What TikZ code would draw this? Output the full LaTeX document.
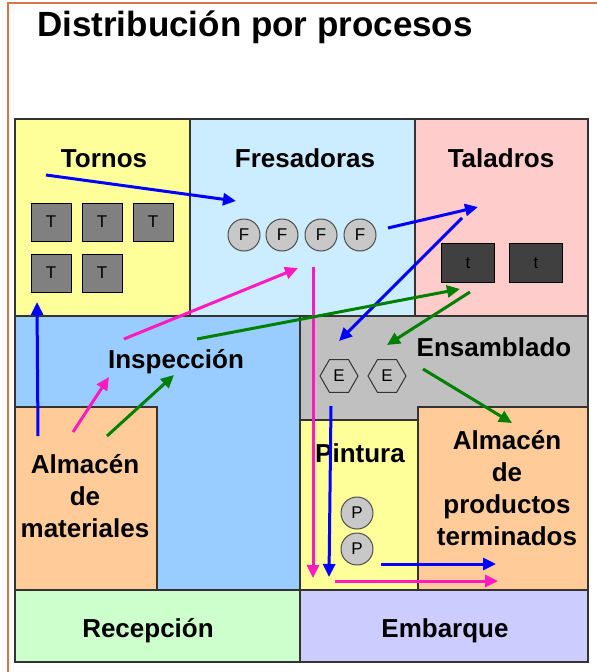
\documentclass[tikz,border=0pt]{standalone}
\usepackage{fontspec}
\setmainfont{Liberation Sans}
\usetikzlibrary{arrows.meta,shapes.geometric}
\definecolor{ctorn}{HTML}{FFFF99}
\definecolor{cfres}{HTML}{CCECFF}
\definecolor{ctal}{HTML}{FFCCCC}
\definecolor{cinsp}{HTML}{99CCFF}
\definecolor{cens}{HTML}{C0C0C0}
\definecolor{calm}{HTML}{FFCC99}
\definecolor{crec}{HTML}{CCFFCC}
\definecolor{cemb}{HTML}{CCCCFF}
\definecolor{cframe}{HTML}{D9734A}
\definecolor{cpink}{HTML}{FF19C0}
\definecolor{cgreen}{HTML}{008000}
\definecolor{cblue}{HTML}{0000FF}
\definecolor{cmach}{HTML}{C8C8C8}
\definecolor{cdark}{HTML}{404040}
\begin{document}
\begin{tikzpicture}[x=1pt,y=-1pt,
  area/.style={draw=black!80,line width=1.2pt},
  lbl/.style={font=\bfseries\fontsize{26}{32}\selectfont, align=center, anchor=base, inner sep=0pt},
  tbox/.style={draw=black, fill=black!50, minimum width=40pt, minimum height=38pt, inner sep=0pt, font=\fontsize{17}{17}\selectfont, line width=1pt},
  dbox/.style={draw=black, fill=cdark, minimum width=53pt, minimum height=39pt, inner sep=0pt, font=\fontsize{17}{17}\selectfont, line width=1pt},
  mcirc/.style={circle, draw=black!70, fill=cmach, minimum size=32pt, inner sep=0pt, font=\fontsize{17}{17}\selectfont, line width=1pt},
  hexa/.style={regular polygon, regular polygon sides=6, draw=black!80, fill=cens, minimum size=38pt, inner sep=0pt, font=\fontsize{17}{17}\selectfont, line width=1pt},
  flow/.style={line width=3pt, -{Triangle[length=13pt,width=12pt]}},
]
\useasboundingbox (0,0) rectangle (597,672);
\fill[white] (0,0) rectangle (597,672);
% slide frame
\draw[cframe, line width=1.5pt] (8,672) -- (8,3) -- (597,3);
% title
\node[anchor=base west, font=\bfseries\fontsize{35}{40}\selectfont, inner sep=0pt] (title) at (37,36) {Distribución por procesos};
% areas
\filldraw[area, fill=ctorn] (15,119) rectangle (190,316);
\filldraw[area, fill=cfres] (190,119) rectangle (415,316);
\filldraw[area, fill=ctal] (415,119) rectangle (588,316);
\filldraw[area, fill=cinsp] (15,316) rectangle (300,590);
\filldraw[area, fill=cens] (300,316) rectangle (588,420);
\filldraw[area, fill=ctorn] (300,420) rectangle (418,590);
\filldraw[area, fill=calm] (418,407) rectangle (588,590);
\filldraw[area, fill=calm] (15,407) rectangle (157,590);
\filldraw[area, fill=crec] (15,590) rectangle (300,662);
\filldraw[area, fill=cemb] (300,590) rectangle (588,662);
% labels
\node[lbl] (ltorn) at (104,167) {Tornos};
\node[lbl] (lfres) at (305,167) {Fresadoras};
\node[lbl] (ltal) at (501,167) {Taladros};
\node[lbl] (linsp) at (176,368) {Inspección};
\node[lbl] (lens) at (494,356) {Ensamblado};
\node[lbl] (lpint) at (360,462) {Pintura};
\node[lbl, anchor=base] (lalmp) at (507,545) {Almacén\\de\\productos\\terminados};
\node[lbl, anchor=base] (lalmm) at (85,537) {Almacén\\de\\materiales};
\node[lbl] (lrec) at (148,637) {Recepción};
\node[lbl] (lemb) at (445,637) {Embarque};
% machines
\node[tbox] (t1) at (51,222) {T};
\node[tbox] (t2) at (102,222) {T};
\node[tbox] (t3) at (153,222) {T};
\node[tbox] (t4) at (51,273) {T};
\node[tbox] (t5) at (102,273) {T};
\node[mcirc] (f1) at (244,235) {F};
\node[mcirc] (f2) at (282,235) {F};
\node[mcirc] (f3) at (321,235) {F};
\node[mcirc] (f4) at (360,235) {F};
\node[dbox] (d1) at (468,263) {t};
\node[dbox] (d2) at (536,263) {t};
\node[hexa] (e1) at (339,376) {E};
\node[hexa] (e2) at (387,376) {E};
\node[mcirc] (p1) at (357,513) {P};
\node[mcirc] (p2) at (357,549) {P};
% arrow end points
\coordinate (b1s) at (46,175);   \coordinate (b1e) at (236,201);
\coordinate (b2s) at (38,436);   \coordinate (b2e) at (37,302);
\coordinate (b3s) at (388,228);  \coordinate (b3e) at (478,207);
\coordinate (b4s) at (462,218);  \coordinate (b4e) at (339,341);
\coordinate (b5s) at (331,406);  \coordinate (b5e) at (329,577);
\coordinate (b6s) at (381,564);  \coordinate (b6e) at (496,564);
\coordinate (m1s) at (73,432);   \coordinate (m1e) at (109,377);
\coordinate (m2s) at (124,339);  \coordinate (m2e) at (298,268);
\coordinate (m3s) at (313,267);  \coordinate (m3e) at (313,578);
\coordinate (m4s) at (335,581);  \coordinate (m4e) at (498,581);
\coordinate (g1s) at (107,436);  \coordinate (g1e) at (174,375);
\coordinate (g2s) at (197,339);  \coordinate (g2e) at (460,289);
\coordinate (g3s) at (470,292);  \coordinate (g3e) at (387,345);
\coordinate (g4s) at (423,369);  \coordinate (g4e) at (512,423);
% arrows
\draw[flow, cblue] (b1s) -- (b1e);
\draw[flow, cblue] (b2s) -- (b2e);
\draw[flow, cblue] (b3s) -- (b3e);
\draw[flow, cblue] (b4s) -- (b4e);
\draw[flow, cpink] (m1s) -- (m1e);
\draw[flow, cpink] (m2s) -- (m2e);
\draw[flow, cpink] (m3s) -- (m3e);
\draw[flow, cpink] (m4s) -- (m4e);
\draw[flow, cgreen] (g1s) -- (g1e);
\draw[flow, cgreen] (g2s) -- (g2e);
\draw[flow, cgreen] (g3s) -- (g3e);
\draw[flow, cgreen] (g4s) -- (g4e);
\draw[flow, cblue] (b5s) -- (b5e);
\draw[flow, cblue] (b6s) -- (b6e);
\end{tikzpicture}
\end{document}
